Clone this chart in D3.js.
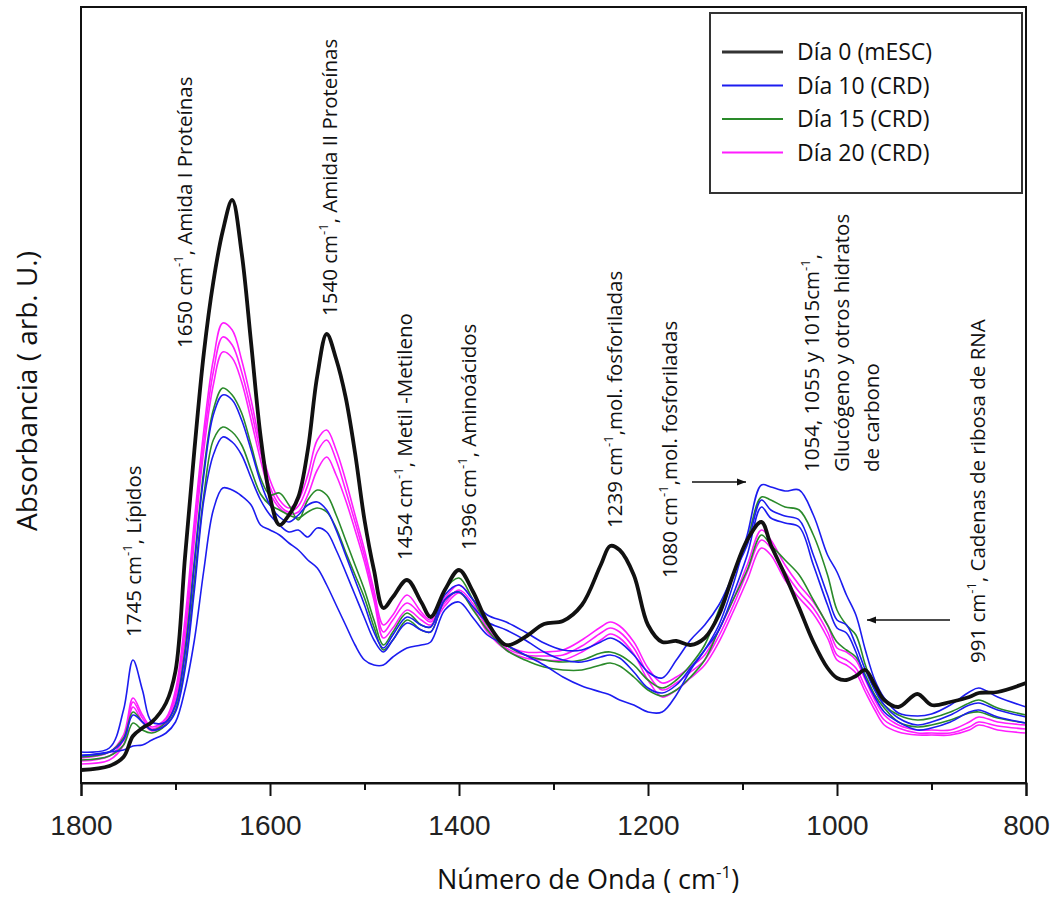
<!DOCTYPE html>
<html>
<head>
<meta charset="utf-8">
<script src="https://cdn.jsdelivr.net/npm/d3@7/dist/d3.min.js"></script>
<style>
  body { margin: 0; background: #fff; }
  svg text { fill: #111; }
</style>
</head>
<body>
<div id="chart"></div>
<script>
// global variables
var width = 1053,
    height = 901;
var plot = {left: 81, right: 1026, top: 7, bottom: 783};
var textFont = '"Open Sans", Lato, sans-serif';

// wavenumber grid (cm-1)
var wavenumbers = [1800,1770,1755,1745,1735,1725,1710,1700,1690,1680,
                   1670,1660,1650,1640,1630,1620,1610,1600,1590,1580,
                   1570,1560,1550,1540,1530,1520,1510,1500,1490,1480,
                   1470,1455,1440,1430,1415,1400,1385,1370,1350,1330,
                   1310,1290,1270,1250,1240,1230,1215,1200,1185,1170,
                   1155,1140,1125,1110,1095,1080,1070,1055,1040,1025,
                   1010,1000,990,980,970,960,950,935,915,900,
                   880,860,850,830,800];

// absorbance (arb. U.), one array per spectrum
var dia0 = [13,17,26,47,55,61,80,112,225,333,
            430,501,552,583,530,440,347,286,258,268,
            286,333,407,449,424,386,330,263,213,175,
            186,203,181,166,193,213,191,161,138,146,
            159,162,178,218,237,233,208,158,141,142,
            138,145,168,208,243,261,238,208,175,141,
            115,105,103,107,113,98,83,76,89,78,
            81,86,90,91,100];

var dia10a = [31,35,73,123,93,61,61,78,128,218,
              308,368,388,383,363,333,301,278,266,261,
              268,278,281,273,253,228,203,178,151,135,
              148,166,158,156,188,198,183,168,161,151,
              140,133,133,141,145,141,128,111,105,123,
              143,158,178,208,238,283,273,267,263,228,
              188,163,158,138,113,93,78,65,58,61,
              68,78,80,73,66];
var dia10b = [28,31,43,68,61,53,58,71,113,193,
              283,328,346,341,328,305,283,268,258,251,
              253,246,255,251,233,211,188,165,143,131,
              143,160,153,151,183,191,176,161,153,143,
              131,123,121,126,128,125,111,95,90,98,
              115,133,153,188,228,276,265,260,256,218,
              178,155,150,131,105,86,71,61,53,55,
              61,71,73,66,60];
var dia10c = [27,31,33,37,38,43,50,61,93,143,
              213,273,295,293,287,278,258,253,248,240,
              233,223,215,198,178,158,138,123,118,118,
              126,135,138,141,173,181,165,148,138,128,
              118,106,97,91,88,83,78,71,71,88,
              113,133,158,198,248,298,296,292,293,268,
              228,211,188,168,133,103,85,70,67,69,
              78,91,95,86,76];

var dia15a = [26,31,45,71,61,53,61,78,133,223,
              313,373,395,388,370,338,305,288,290,278,
              263,283,293,288,268,243,218,193,163,138,
              151,170,158,156,193,205,183,158,138,128,
              123,121,123,130,131,128,118,103,95,103,
              118,138,173,208,243,286,283,276,273,248,
              208,173,158,148,118,93,78,68,63,65,
              71,80,83,75,68];
var dia15b = [23,27,38,60,53,50,58,73,118,203,
              288,343,356,351,338,313,289,278,273,268,
              265,271,275,271,255,231,208,185,156,133,
              143,163,153,151,183,191,173,153,133,123,
              116,113,113,118,120,117,106,93,87,93,
              106,123,153,183,213,248,238,223,208,183,
              158,141,133,126,108,88,75,61,56,58,
              63,70,71,65,60];

var dia20a = [25,31,48,85,68,56,65,93,163,263,
              353,423,460,453,423,383,338,303,283,275,
              283,308,343,353,333,303,268,233,193,158,
              168,188,171,163,185,198,183,158,138,131,
              131,133,143,156,161,157,141,115,100,106,
              116,128,153,183,218,253,243,218,198,181,
              158,135,131,123,103,83,68,58,53,53,
              53,61,66,61,58];
var dia20b = [22,27,43,81,65,54,63,88,153,253,
              343,411,446,438,411,373,331,296,278,271,
              277,298,331,343,323,293,261,227,188,151,
              163,180,168,161,180,193,179,155,135,128,
              127,128,137,150,155,151,135,109,93,100,
              111,123,147,177,211,243,235,211,191,175,
              151,128,123,115,96,78,63,55,50,50,
              50,56,61,57,54];
var dia20c = [19,23,38,76,61,52,60,83,143,243,
              333,398,431,425,401,363,323,290,275,269,
              271,288,313,326,308,283,253,221,183,145,
              155,173,163,158,177,190,175,151,133,125,
              123,123,131,143,149,145,129,103,86,93,
              105,118,141,171,203,235,228,203,185,169,
              145,123,118,110,91,73,58,51,48,48,
              48,53,58,53,50];

var seriesNames = ['Día 0 (mESC)', 'Día 10 (CRD)', 'Día 15 (CRD)', 'Día 20 (CRD)'];
var seriesColors = ['#111111', '#1c1cf0', '#2a8a2a', '#ff1dff'];
var seriesData = [[dia0], [dia10a, dia10b, dia10c], [dia15a, dia15b], [dia20a, dia20b, dia20c]];

var majorTicks = [1800, 1600, 1400, 1200, 1000, 800];
var minorTicks = [1700, 1500, 1300, 1100, 900];

// annotation texts: [main, superscript, rest]
var notes = [
    {parts: ['1745 cm', '-1', ',  Lípidos'], x: 141, y: 637},
    {parts: ['1650 cm', '-1', ', Amida I  Proteínas'], x: 192, y: 348},
    {parts: ['1540 cm', '-1', ', Amida II Proteínas'], x: 337, y: 316},
    {parts: ['1454 cm', '-1', ', Metil -Metileno'], x: 412, y: 560},
    {parts: ['1396 cm', '-1', ',  Aminoácidos'], x: 476, y: 550},
    {parts: ['1239 cm', '-1', ',mol. fosforiladas'], x: 622, y: 528},
    {parts: ['1080 cm', '-1', ',mol. fosforiladas'], x: 677, y: 578},
    {parts: ['1054, 1055 y 1015cm', '-1', ','], x: 819, y: 472},
    {parts: ['Glucógeno y otros hidratos', '', ''], x: 849, y: 472},
    {parts: ['de carbono', '', ''], x: 879, y: 472},
    {parts: ['991 cm', '-1', ', Cadenas de ribosa de RNA'], x: 985, y: 663}
];

// create svg figure
var svg = d3.select('#chart').append('svg')
    .attr('width', width)
    .attr('height', height);

var x = d3.scaleLinear()
    .domain([1800, 800])
    .range([plot.left, plot.right]);

var y = d3.scaleLinear()
    .domain([0, 776])
    .range([plot.bottom, plot.top]);

var line = d3.line()
    .x(function(d){ return x(d[0]); })
    .y(function(d){ return y(d[1]); })
    .curve(d3.curveCatmullRom.alpha(0.5));

// draw spectra, coloured first and day 0 on top
var order = [3, 2, 1, 0];
order.forEach(function(s){
    seriesData[s].forEach(function(vals){
        var pts = wavenumbers.map(function(w, i){ return [w, vals[i]]; });
        svg.append('path')
            .attr('d', line(pts))
            .attr('fill', 'none')
            .attr('stroke', seriesColors[s])
            .attr('stroke-width', s == 0 ? 3.8 : 1.6)
            .attr('stroke-linejoin', 'round');
    });
});

// frame
svg.append('rect')
    .attr('x', plot.left)
    .attr('y', plot.top)
    .attr('width', plot.right - plot.left)
    .attr('height', plot.bottom - plot.top)
    .attr('fill', 'none')
    .attr('stroke', '#111')
    .attr('stroke-width', 2);

// x axis
var axisMajor = d3.axisBottom(x).tickValues(majorTicks).tickSize(13).tickFormat(d3.format('d'));
var axisMinor = d3.axisBottom(x).tickValues(minorTicks).tickSize(7).tickFormat('');

var gx = svg.append('g')
    .attr('transform', 'translate(0,' + plot.bottom + ')')
    .call(axisMajor);
svg.append('g')
    .attr('transform', 'translate(0,' + plot.bottom + ')')
    .call(axisMinor)
    .select('.domain').remove();

gx.select('.domain').attr('stroke', '#111').attr('stroke-width', 2);
svg.selectAll('.tick line').attr('stroke', '#111').attr('stroke-width', 2);
gx.selectAll('.tick text')
    .attr('y', 52)
    .attr('dy', 0)
    .style('font-family', '"Liberation Sans", Arial, sans-serif')
    .style('font-size', '28px')
    .style('fill', '#222');

// axis titles
var xt = svg.append('text')
    .attr('x', 437)
    .attr('y', 889)
    .style('font-family', textFont)
    .style('font-size', '27px');
xt.append('tspan').text('Número de Onda  ( cm');
xt.append('tspan').attr('baseline-shift', 'super').style('font-size', '17px').text('-1');
xt.append('tspan').text(')');

svg.append('text')
    .attr('transform', 'translate(37,391) rotate(-90)')
    .attr('text-anchor', 'middle')
    .style('font-family', textFont)
    .style('font-size', '28px')
    .text('Absorbancia ( arb. U.)');

// annotations
notes.forEach(function(n){
    var t = svg.append('text')
        .attr('transform', 'translate(' + n.x + ',' + n.y + ') rotate(-90)')
        .style('font-family', textFont)
        .style('font-size', '20.5px');
    t.append('tspan').text(n.parts[0]);
    if(n.parts[1] != ''){
        t.append('tspan').attr('baseline-shift', 'super').style('font-size', '13px').text(n.parts[1]);
    }
    if(n.parts[2] != ''){
        t.append('tspan').text(n.parts[2]);
    }
});

// arrows
svg.append('defs').append('marker')
    .attr('id', 'head')
    .attr('viewBox', '0 0 10 10')
    .attr('refX', 10)
    .attr('refY', 5)
    .attr('markerWidth', 9)
    .attr('markerHeight', 9)
    .attr('markerUnits', 'userSpaceOnUse')
    .attr('orient', 'auto')
  .append('path')
    .attr('d', 'M0,1 L10,5 L0,9 z')
    .attr('fill', '#111');

[[692, 482, 746, 482], [950, 620, 867, 620]].forEach(function(a){
    svg.append('line')
        .attr('x1', a[0]).attr('y1', a[1])
        .attr('x2', a[2]).attr('y2', a[3])
        .attr('stroke', '#111')
        .attr('stroke-width', 1.6)
        .attr('marker-end', 'url(#head)');
});

// legend
var legend = svg.append('g');
legend.append('rect')
    .attr('x', 710)
    .attr('y', 13)
    .attr('width', 312)
    .attr('height', 180)
    .attr('fill', '#fff')
    .attr('stroke', '#333')
    .attr('stroke-width', 2);

seriesNames.forEach(function(name, i){
    var ly = 52 + i * 33.5;
    legend.append('line')
        .attr('x1', 722).attr('x2', 783)
        .attr('y1', ly).attr('y2', ly)
        .attr('stroke', i == 0 ? '#333' : seriesColors[i])
        .attr('stroke-width', i == 0 ? 3 : 2);
    legend.append('text')
        .attr('x', 797)
        .attr('y', ly + 8)
        .style('font-family', textFont)
        .style('font-size', '23px')
        .text(name);
});
</script>
</body>
</html>
